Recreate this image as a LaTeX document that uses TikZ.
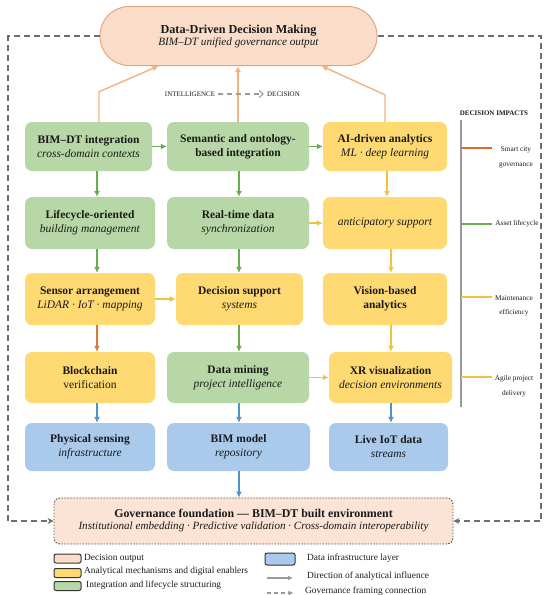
\documentclass[tikz,border=0pt]{standalone}
\usepackage{fontspec}
\setmainfont{Liberation Serif}
\usetikzlibrary{arrows.meta}
\definecolor{ink}{HTML}{1A1A1A}
\definecolor{peach}{HTML}{F9DDC9}
\definecolor{peachb}{HTML}{E8A47E}
\definecolor{govfill}{HTML}{FBE4D5}
\definecolor{govb}{HTML}{555555}
\definecolor{gfill}{HTML}{B7D7A6}
\definecolor{yfill}{HTML}{FFD972}
\definecolor{bfill}{HTML}{AACAEC}
\definecolor{garrow}{HTML}{6AAB4A}
\definecolor{yarrow}{HTML}{F2C13F}
\definecolor{barrow}{HTML}{4F93D0}
\definecolor{darrow}{HTML}{E0773A}
\definecolor{larrow}{HTML}{F4B183}
\definecolor{impor}{HTML}{E06A2C}
\definecolor{framegray}{HTML}{6E6E6E}
\definecolor{vgray}{HTML}{9A9A9A}
\definecolor{swb}{HTML}{333333}
\begin{document}
\begin{tikzpicture}[x=1pt,y=-1pt,
  every node/.style={text=ink},
  box/.style={rounded corners=7, align=center, inner sep=1pt, font=\rmfamily\fontsize{11.5}{14}\selectfont},
  gbox/.style={box, fill=gfill},
  ybox/.style={box, fill=yfill},
  bbox/.style={box, fill=bfill},
  arrw/.style={line width=1.4pt, -{Latex[length=6pt,width=6pt]}},
  garr/.style={arrw, draw=garrow},
  yarr/.style={arrw, draw=yarrow},
  barr/.style={arrw, draw=barrow},
  darr/.style={arrw, draw=darrow},
  oarr/.style={arrw, draw=larrow},
  framedash/.style={draw=framegray, line width=1.3pt, dash pattern=on 6pt off 4pt, -{Stealth[length=6pt,width=6pt]}},
  imp/.style={font=\rmfamily\fontsize{7.3}{14.5}\selectfont, align=center},
  leg/.style={font=\rmfamily\fontsize{9.4}{10}\selectfont, anchor=west, inner sep=0pt},
  sw/.style={draw=swb, line width=1pt, rounded corners=2}
]
\useasboundingbox (0,0) rectangle (550,595);

% top output
\node[draw=peachb, fill=peach, line width=1pt, rounded corners=29, minimum width=277, minimum height=59, align=center, font=\rmfamily] (top) at (238.5,36)
  {\fontsize{12.2}{16}\selectfont\textbf{Data-Driven Decision Making}\\\fontsize{11.2}{16}\selectfont\textit{BIM–DT unified governance output}};

% row 1
\node[gbox, minimum width=127, minimum height=49] (bim) at (88.5,146.5) {\textbf{BIM–DT integration}\\\textit{cross-domain contexts}};
\node[gbox, minimum width=142, minimum height=49] (sem) at (238,146.5) {\textbf{Semantic and ontology-}\\\textbf{based integration}};
\node[ybox, minimum width=124, minimum height=49] (ai) at (385,146.5) {\textbf{AI-driven analytics}\\\textit{ML · deep learning}};
% row 2
\node[gbox, minimum width=130, minimum height=52] (life) at (90,223) {\textbf{Lifecycle-oriented}\\\textit{building management}};
\node[gbox, minimum width=142, minimum height=52] (rt) at (238,223) {\textbf{Real-time data}\\\textit{synchronization}};
\node[ybox, minimum width=124, minimum height=52] (ant) at (385,223) {\textit{anticipatory support}};
% row 3
\node[ybox, minimum width=130, minimum height=52] (sen) at (90,299) {\textbf{Sensor arrangement}\\\textit{LiDAR · IoT · mapping}};
\node[ybox, minimum width=127, minimum height=52] (ds) at (239.5,299) {\textbf{Decision support}\\\textit{systems}};
\node[ybox, minimum width=124, minimum height=52] (vis) at (385,299) {\textbf{Vision-based}\\\textbf{analytics}};
% row 4
\node[ybox, minimum width=130, minimum height=51] (blk) at (90,377.5) {\textbf{Blockchain}\\verification};
\node[gbox, minimum width=142, minimum height=51] (dm) at (238,377.5) {\textbf{Data mining}\\\textit{project intelligence}};
\node[ybox, minimum width=123, minimum height=51] (xr) at (390.5,377.5) {\textbf{XR visualization}\\\textit{decision environments}};
% row 5
\node[bbox, minimum width=130, minimum height=48] (phy) at (90,447) {\textbf{Physical sensing}\\\textit{infrastructure}};
\node[bbox, minimum width=143, minimum height=48] (bm) at (238.5,447) {\textbf{BIM model}\\\textit{repository}};
\node[bbox, minimum width=119, minimum height=48] (iot) at (388.5,447) {\textbf{Live IoT data}\\\textit{streams}};

% foundation
\node[draw=govb, fill=govfill, line width=0.9pt, dash pattern=on 1.6pt off 1.4pt, rounded corners=6, minimum width=399, minimum height=46, align=center, font=\rmfamily] (gov) at (253.5,521)
  {\fontsize{11.9}{14}\selectfont\textbf{Governance foundation — BIM–DT built environment}\\\fontsize{11.1}{14}\selectfont\textit{Institutional embedding · Predictive validation · Cross-domain interoperability}};

% column coordinates
\coordinate (c1) at (97,0);
\coordinate (c2) at (239,0);
\coordinate (c3a) at (387,0);
\coordinate (c3) at (391,0);

% orange lines to top
\draw[oarr] ([xshift=10.5]bim.north) -- ++(0,-30) -- ([xshift=-80]top.south);
\draw[oarr] (sem.north) -- (sem.north |- top.south);
\draw[oarr] (ai.north) -- ++(0,-27) -- ([xshift=83]top.south);

% intelligence -> decision
\node[font=\rmfamily\fontsize{7}{7}\selectfont, inner sep=1pt] (intel) at (190,94) {INTELLIGENCE};
\node[font=\rmfamily\fontsize{7}{7}\selectfont, inner sep=1pt] (dec) at (283.5,94) {DECISION};
\draw[draw=vgray, line width=1.1pt, dash pattern=on 5pt off 4pt, -{Straight Barb[length=4pt,width=7pt]}] (intel.east) ++(2,0) -- ([xshift=-2]dec.west);

% horizontal arrows
\draw[garr] (bim.east) -- (sem.west);
\draw[garr] (sem.east) -- (ai.west);
\draw[yarr] (rt.east) -- (ant.west);
\draw[yarr] (sen.east) -- (ds.west);
\draw[yarr] (dm.east) -- (xr.west);

% column 1
\draw[garr] (bim.south -| c1) -- (life.north -| c1);
\draw[garr] (life.south -| c1) -- (sen.north -| c1);
\draw[darr] (sen.south -| c1) -- (blk.north -| c1);
\draw[barr] (blk.south -| c1) -- (phy.north -| c1);
% column 2
\draw[garr] (sem.south -| c2) -- (rt.north -| c2);
\draw[garr] (rt.south -| c2) -- (ds.north -| c2);
\draw[garr] (ds.south -| c2) -- (dm.north -| c2);
\draw[barr] (dm.south -| c2) -- (bm.north -| c2);
\draw[barr] (bm.south -| c2) -- (gov.north -| c2);
% column 3
\draw[yarr] (ai.south -| c3a) -- (ant.north -| c3a);
\draw[yarr] (ant.south -| c3) -- (vis.north -| c3);
\draw[yarr] (vis.south -| c3) -- (xr.north -| c3);
\draw[barr] (xr.south -| c3) -- (iot.north -| c3);

% governance framing frame
\coordinate (fl) at (8,36);
\coordinate (fr) at (541,36);
\draw[framedash] (top.west) -- (fl) |- (gov.west);
\draw[framedash] (top.east) -- (fr) |- (gov.east);

% decision impacts
\node[font=\rmfamily\fontsize{7}{7}\selectfont\bfseries, inner sep=0pt] (impt) at (494,113) {DECISION IMPACTS};
\coordinate (vt) at (461,120);
\coordinate (vb) at (461,407);
\draw[draw=vgray, line width=1.3pt] (vt) -- (vb);
\coordinate (i1) at (461,148);
\coordinate (i2) at (461,224);
\coordinate (i3) at (461,297);
\coordinate (i4) at (461,377);
\draw[draw=impor, line width=1.3pt] (i1) -- ++(31,0);
\draw[draw=garrow, line width=1.3pt] (i2) -- ++(31,0);
\draw[draw=yarrow, line width=1.3pt] (i3) -- ++(31,0);
\draw[draw=yarrow, line width=1.3pt] (i4) -- ++(31,0);
\node[imp, anchor=north] (t1) at (516,143.5) {Smart city\\governance};
\node[imp] (t2) at (517,224) {Asset lifecycle};
\node[imp, anchor=north] (t3) at (514,292) {Maintenance\\efficiency};
\node[imp, anchor=north] (t4) at (514,372) {Agile project\\delivery};

% legend
\draw[sw, fill=peach] (54,554) rectangle (81,563);
\draw[sw, fill=yfill] (54,568.5) rectangle (81,577.5);
\draw[sw, fill=gfill] (54,581.5) rectangle (81,590.5);
\draw[sw, fill=bfill] (265,553) rectangle (295,565);
\node[leg] (l1) at (84,558) {Decision output};
\node[leg] (l2) at (84,571.5) {Analytical mechanisms and digital enablers};
\node[leg] (l3) at (86,585) {Integration and lifecycle structuring};
\node[leg] (l4) at (307,558) {Data infrastructure layer};
\node[leg] (l5) at (307,576) {Direction of analytical influence};
\node[leg] (l6) at (305,591) {Governance framing connection};
\coordinate (a1) at (267,578);
\coordinate (a2) at (267,593);
\draw[draw=vgray, line width=1.1pt, -{Latex[length=5pt,width=5pt]}] (a1) -- ++(26,0);
\draw[draw=vgray, line width=1.1pt, dash pattern=on 4pt off 3pt, -{Stealth[length=5pt,width=5pt]}] (a2) -- ++(26,0);
\end{tikzpicture}
\end{document}
